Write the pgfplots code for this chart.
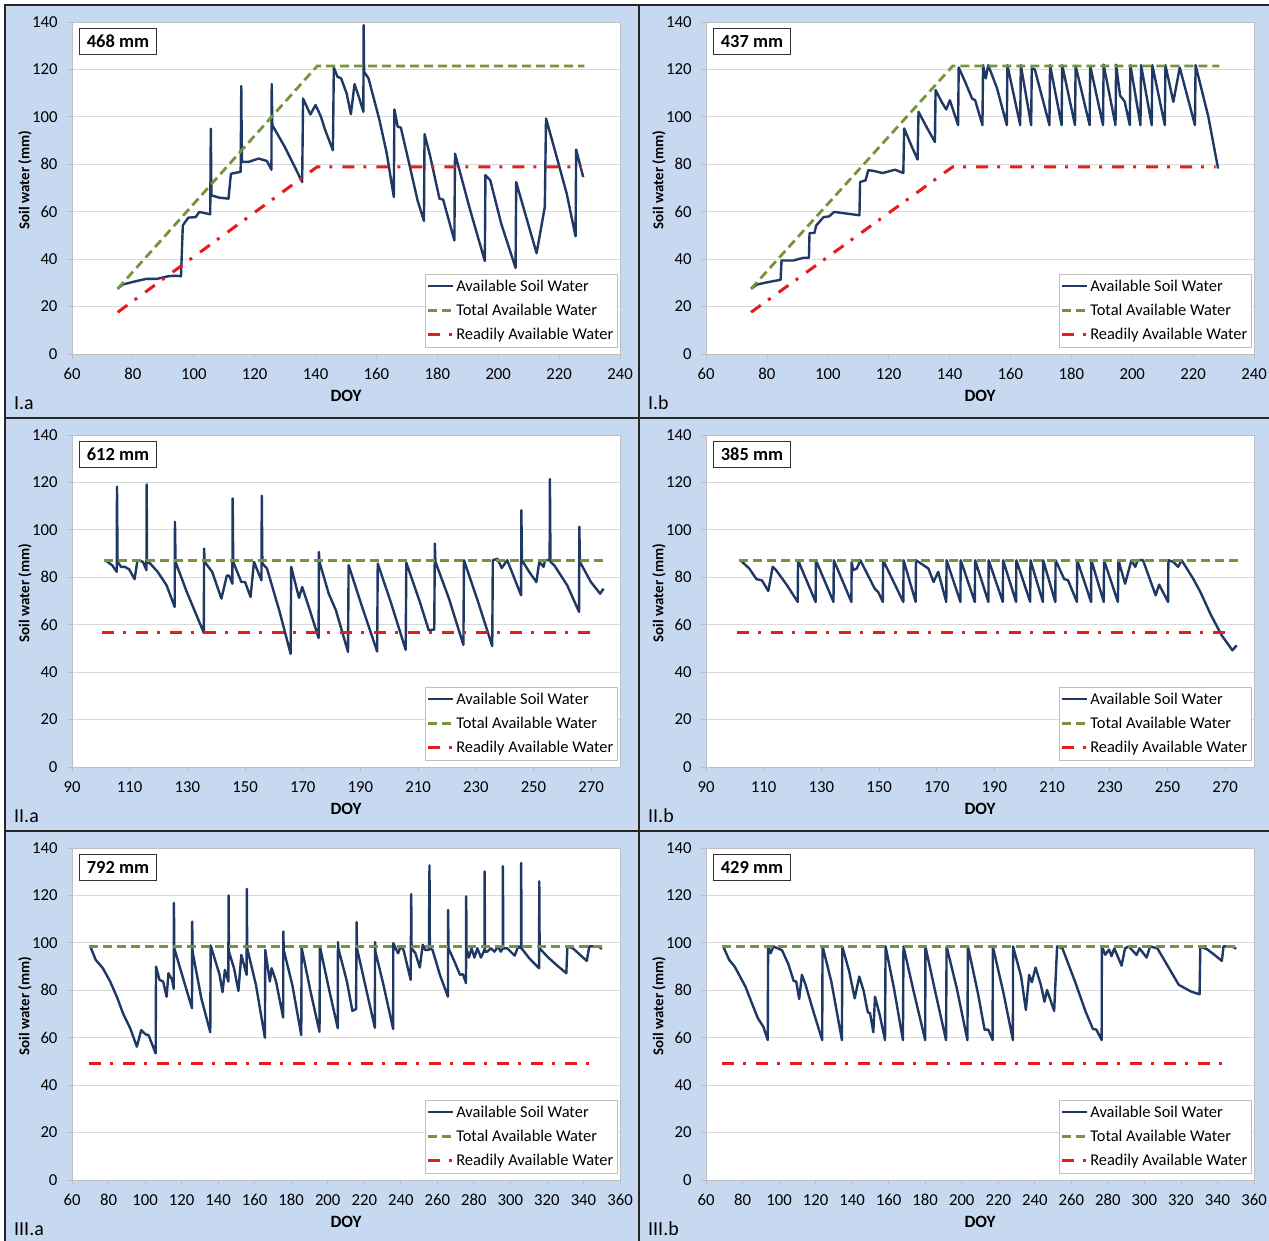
\documentclass[border=0pt]{standalone}
\usepackage{fontspec}
\setmainfont{Carlito}
\usepackage{pgfplots}
\pgfplotsset{compat=1.18}
\definecolor{bgblue}{RGB}{198,217,241}
\definecolor{aswc}{RGB}{31,56,100}
\definecolor{tawc}{RGB}{119,147,60}
\definecolor{rawc}{RGB}{228,28,28}
\definecolor{gridc}{RGB}{217,217,217}
\definecolor{axc}{RGB}{191,191,191}
\pgfplotsset{
  panel/.style={
    anchor=south west, width=548bp, height=332bp, scale only axis,
    ymin=0, ymax=140, ytick={0,20,...,140},
    ymajorgrids, grid style={draw=gridc, line width=0.8bp},
    axis line style={draw=axc, line width=0.8bp},
    tick align=outside, major tick length=5bp,
    tick style={draw=axc, line width=0.8bp},
    xtick pos=bottom, ytick pos=left,
    axis background/.style={fill=white},
    tick label style={font=\fontsize{16.8}{17}\selectfont, text=black},
    xticklabel style={yshift=-6bp},
    yticklabel style={xshift=-6bp},
    /pgf/number format/assume math mode=true,
    xlabel={DOY}, ylabel={Soil water (mm)},
    ylabel style={font=\fontsize{15}{16}\selectfont\bfseries,
      at={(axis description cs:-0.0858,0.524)}, anchor=center},
    xlabel style={font=\fontsize{17.3}{18}\selectfont\bfseries,
      at={(axis description cs:0.5,-0.1265)}, anchor=center},
    legend style={at={(rel axis cs:0.9945,0.021)}, anchor=south east,
      draw=axc, fill=white, font=\fontsize{16.5}{17}\selectfont,
      inner xsep=2bp, inner ysep=4bp, row sep=8.5bp,
      nodes={inner sep=1.5bp}},
    legend cell align=left,
    legend image code/.code={\draw[##1] (0bp,0bp) -- (25bp,0bp);},
  },
}
\tikzset{
  asw/.style={draw=aswc, line width=2.4bp, line join=round},
  taw/.style={draw=tawc, line width=2.8bp, dash pattern=on 9bp off 5bp},
  raw/.style={draw=rawc, line width=3bp, dash pattern=on 12bp off 9bp on 3bp off 10bp},
  mmbox/.style={draw=black!80, line width=0.9bp, fill=white, anchor=north west,
    minimum width=77bp, minimum height=26bp, inner sep=0pt,
    font=\fontsize{18.5}{19}\selectfont\bfseries},
}
\newcommand{\leg}{\legend{Available Soil Water,Total Available Water,Readily Available Water}}
\begin{document}
\begin{tikzpicture}[x=1bp,y=1bp]
\useasboundingbox (0,0) rectangle (1269,1241);
\fill[white] (0,0) rectangle (1269,1241);
\fill[bgblue] (5,0) rectangle (1269,1236);
% panel labels
\begin{scope}[every node/.style={anchor=base west, inner sep=0pt, font=\fontsize{20}{21}\selectfont}]
\node at (14,831) {I.a};
\node at (648,831) {I.b};
\node at (14,418) {II.a};
\node at (648,418) {II.b};
\node at (14,5) {III.a};
\node at (648,5) {III.b};
\end{scope}

% ---------- I.a ----------
\begin{axis}[panel, at={(72bp,887bp)}, xmin=60, xmax=240, xtick={60,80,...,240}]
\addplot[asw] coordinates {(75,27.5) (76.7,29.3) (81,30.7) (84.5,31.7) (88,31.7) (91.7,32.8) (94,33) (95.8,32.8) (96.4,54.2) (98.2,57.5) (100.6,57.7) (101.8,59.9) (105.4,58.9) (105.6,95) (105.8,66.9) (108.4,65.9) (111.4,65.5) (112.2,76) (115.4,76.8) (115.6,113) (115.8,81) (118,81) (121.3,82.4) (124,81.4) (125.5,77.7) (125.6,113.8) (125.8,96.5) (129.9,87.3) (132.9,79.6) (135.6,72.5) (135.9,107.7) (138.3,101) (140,105) (141.8,100) (143,95) (145.7,85.9) (146,120.8) (147.2,116.9) (148.4,116.2) (150.2,109.9) (151.6,101.1) (152.8,113.8) (154.4,107.7) (155.7,102.1) (155.8,138.7) (155.95,119) (157.4,116.2) (161,98.6) (163.4,84.5) (165.7,66.2) (165.9,103.1) (167,95.8) (168,95.5) (170.5,81.7) (173.5,64.8) (175.6,56.1) (175.8,92.7) (177.7,83.1) (180.7,65.5) (181.9,65.1) (185.6,47.9) (185.8,84.5) (190.8,60.6) (195.6,39.2) (195.8,75.4) (197.4,73.2) (201,54.9) (205.7,36.3) (205.9,72.5) (208.7,59.9) (212.6,42.5) (215.3,62) (215.7,99.3) (218.3,87.3) (222.5,67.6) (225.4,49.6) (225.6,86.2) (227.9,74.6)};
\addplot[taw] coordinates {(75,27.5) (140.5,121.4) (228.3,121.4)};
\addplot[raw] coordinates {(75,17.6) (140.5,78.9) (227.5,78.9)};
\leg
\node[mmbox] at (rel axis cs:0.0128,0.982) {468 mm};
\end{axis}

% ---------- I.b ----------
\begin{axis}[panel, at={(706bp,887bp)}, xmin=60, xmax=240, xtick={60,80,...,240}]
\addplot[asw] coordinates {(74.8,27.5) (76.8,29.3) (80.4,30.3) (84.5,31.3) (84.8,39.4) (88.6,39.4) (92.1,40.6) (93.8,40.6) (94,51) (95.6,51) (96.2,54.2) (98.6,57.7) (100.4,58) (102.1,59.9) (106.2,59.2) (110.4,58.5) (110.6,72.5) (112.4,73.2) (113.3,77.5) (115.1,77.2) (118,76.3) (122.1,77.7) (124.8,76.3) (125.1,95.1) (127.4,88) (129.5,82) (129.8,102.1) (132.7,95.1) (135.2,89.4) (135.4,111.3) (137.4,106.3) (138.9,103.1) (140.1,107) (142.8,96.5) (143,120.8) (145.1,114.8) (147.4,107.7) (148.4,107) (150.8,96.5) (151,121.8) (151.9,116.2) (152.7,121.8) (155.6,112) (158.8,96.5) (159,121.8) (163.2,96.5) (163.4,121.8) (166.8,96.5) (167,120.4) (168,120) (172.8,96.5) (173,121.8) (176.8,96.5) (177,121.8) (181.2,96.5) (181.4,121.5) (186,96.5) (186.2,121.5) (190.4,96.5) (190.6,122) (194.5,96.5) (194.7,122) (196,109) (197.5,106.5) (199.2,96.5) (199.4,121.8) (202.7,96.5) (202.9,121.8) (206.4,96.5) (206.6,121.8) (210.7,96.5) (210.9,121.8) (213.5,106.3) (215.6,120.8) (220.6,96.5) (220.8,121.8) (225,100) (228.2,78.2)};
\addplot[taw] coordinates {(74.8,27.5) (141,121.4) (228.6,121.4)};
\addplot[raw] coordinates {(74.8,17.6) (141,78.9) (227.4,78.9)};
\leg
\node[mmbox] at (rel axis cs:0.0128,0.982) {437 mm};
\end{axis}

% ---------- II.a ----------
\begin{axis}[panel, at={(72bp,474bp)}, xmin=90, xmax=280, xtick={90,110,...,270}]
\addplot[asw] coordinates {(101.5,87.2) (103.9,85.1) (105.5,82.3) (105.6,118.2) (105.8,86.5) (107,84.4) (108.3,84.4) (109.8,83.4) (111.7,79.2) (112.7,87.2) (114.6,86.5) (115.8,83) (115.9,119.2) (116,86.5) (117.1,85.8) (119.7,82.3) (122.8,76.6) (125.6,67.5) (125.7,103.4) (125.9,86.5) (129.8,73.8) (135.7,56.6) (135.8,92.1) (136,86.5) (138.6,82.3) (141.8,71) (143.7,80.8) (144.5,80.6) (145.6,77.3) (145.7,113.2) (145.9,86.5) (148.7,78) (150,78) (151.9,71.7) (153.1,86.5) (155.7,78.7) (155.8,114.4) (156,85.8) (157.6,83.7) (162,65.4) (165.8,47.7) (166,84.4) (168.7,71.3) (169.8,75.9) (172.1,67.5) (175.5,54.4) (175.6,90.7) (175.8,86.5) (179,73.1) (181.5,66.1) (185.7,48.5) (185.9,85.1) (190.4,68.2) (195.8,48.7) (196,85.8) (200.5,69.6) (205.7,49.4) (205.9,86.2) (210.6,69.6) (213.7,57.6) (215.6,58) (215.8,94.2) (216,86.5) (220.7,71) (225.7,51.5) (225.9,87.2) (230.8,69.6) (235.7,51) (235.9,87.2) (237.5,87.8) (239,83.9) (240.9,87.2) (245.7,72.4) (245.8,108.3) (246,87.2) (248.5,82.3) (251,78) (252,86.5) (253.5,84.4) (254,87.2) (255.6,87.2) (255.7,121.4) (255.9,86.5) (257.3,84.9) (261.7,76.6) (265.8,65.4) (265.9,101.3) (266.1,86.5) (269.9,78) (273.1,73.1) (274.3,75.2)};
\addplot[taw] coordinates {(101,87.2) (274.3,87.2)};
\addplot[raw] coordinates {(100.5,56.6) (270.6,56.6)};
\leg
\node[mmbox] at (rel axis cs:0.0128,0.982) {612 mm};
\end{axis}

% ---------- II.b ----------
\begin{axis}[panel, at={(706bp,474bp)}, xmin=90, xmax=280, xtick={90,110,...,270}]
\addplot[asw] coordinates {(101.9,87.2) (105,83.7) (107.5,79.2) (109.4,78.7) (111.6,74.2) (113.1,84.4) (114.3,83) (118.1,76.6) (121.8,69.6) (121.9,87.2) (128,69.6) (128.1,87.2) (134.2,69.6) (134.3,87.2) (140.4,69.6) (140.5,86.5) (141,83) (142.3,83.7) (143.5,87.2) (148.5,75.2) (149.7,73.8) (151.3,69.6) (151.4,87.2) (158.4,69.6) (158.5,87.2) (162.7,69.6) (162.8,87.2) (167.1,83.7) (168.9,78) (170.5,82.3) (173.3,69.6) (173.4,87.2) (178.2,69.6) (178.3,87.2) (183.2,69.6) (183.3,87.2) (187.9,69.6) (188,87.2) (192.9,69.6) (193,87.2) (197.5,69.6) (197.6,87.2) (202.4,69.6) (202.5,87.2) (206.8,69.6) (206.9,87.2) (211.1,69.6) (211.2,87.2) (214.2,79.2) (215.5,78.8) (218.6,69.6) (218.7,87.2) (223.5,69.6) (223.6,87.2) (227.9,69.6) (228,87.2) (232.8,69.6) (233,87.2) (235.3,77.3) (237.5,87.2) (238.8,84.4) (239.7,87.2) (241.5,87.2) (245.9,72.4) (247.1,76.9) (250.2,69.6) (250.3,87.2) (252,86.5) (253.7,84.4) (254.9,87.2) (258.9,79.4) (261.4,73.8) (265.1,64) (268.8,55.5) (272.5,49.2) (274,51.3)};
\addplot[taw] coordinates {(101.3,87.2) (274.4,87.2)};
\addplot[raw] coordinates {(100.7,56.6) (270,56.6)};
\leg
\node[mmbox] at (rel axis cs:0.0128,0.982) {385 mm};
\end{axis}

% ---------- III.a ----------
\begin{axis}[panel, at={(72bp,61bp)}, xmin=60, xmax=360, xtick={60,80,...,360}]
\addplot[asw] coordinates {(70,98.5) (73,92.8) (76.9,89.3) (80.9,83.7) (84.9,76.6) (87.9,70.3) (91.9,63.9) (95.5,56.2) (97.9,63.2) (100.3,61.4) (101.9,61.1) (105.8,53.4) (106,90) (107.9,84.4) (109.9,83.7) (111.8,77.3) (112.8,87.2) (114.8,84.4) (115.7,80.6) (115.8,116.8) (116,97.7) (120.8,85.1) (125.7,72.4) (125.8,109) (126,96.3) (130.8,76.6) (135.7,62.3) (135.9,98.9) (140.8,86.5) (142.4,79.2) (143.7,88.6) (145.6,83.7) (145.7,120) (145.9,96.3) (148.7,89.3) (151.1,79.7) (152.7,94.9) (155.6,86.5) (155.7,122.8) (155.9,97.7) (160.7,82.3) (165.6,60) (165.8,97) (168.3,83.7) (169.3,89.3) (171.7,83.7) (175.6,68.5) (175.7,104.8) (175.9,97) (180.6,82.3) (185.5,61.1) (185.7,98) (190.6,79.4) (195.5,62.5) (195.7,98.5) (200.6,80.8) (205.5,64) (205.6,100.3) (205.8,97.7) (210.5,83.7) (213.5,71.3) (215.5,72.1) (215.8,108.7) (216,97.7) (220.5,82.3) (225.8,64.2) (225.9,100.3) (226.1,96.3) (230.5,82.3) (235.8,63.7) (235.9,99.9) (238.5,95.6) (239.9,98.5) (241.5,97) (245.4,84.4) (245.7,120.6) (245.9,97.7) (248,95.6) (250.4,89.6) (252,99.2) (253.4,97) (255.4,97) (255.7,132.7) (255.9,97.7) (257.4,97) (261.4,86.5) (265.8,77.3) (265.9,113.9) (266.1,97.7) (269.4,92.1) (272.4,86.5) (274,86.8) (275.7,83) (275.8,119.6) (276,97.7) (277.3,93.8) (278.7,97.7) (280.3,93.8) (281.9,97.7) (283.9,93.8) (285.8,97) (285.9,130.1) (286.1,96.3) (287.3,96.3) (289.3,97.7) (291.3,96.3) (293.3,98.5) (294.7,96.3) (295.8,97.5) (295.9,132.3) (296.1,97.7) (298.3,97.7) (302.3,94.6) (304.3,98.5) (305.8,97.7) (305.9,133.7) (306.1,97.7) (310.3,93.5) (315.7,89.3) (315.8,125.9) (316,97.7) (320.2,94.2) (325.2,90.7) (330.6,87.2) (331.2,98.5) (334.2,97.7) (338.2,94.9) (341.8,92.4) (343.2,98.5) (348.1,98.5) (350.1,97.5)};
\addplot[taw] coordinates {(69.4,98.5) (350.1,98.5)};
\addplot[raw] coordinates {(69.4,49.2) (344.6,49.2)};
\leg
\node[mmbox] at (rel axis cs:0.0128,0.982) {792 mm};
\end{axis}

% ---------- III.b ----------
\begin{axis}[panel, at={(706bp,61bp)}, xmin=60, xmax=360, xtick={60,80,...,360}]
\addplot[asw] coordinates {(69.4,98.5) (72.7,92.8) (75.7,90) (81.6,81.5) (85.5,73.8) (88.4,68.2) (91.4,64.6) (93.8,59) (94,98.5) (95.3,95.6) (96.9,98.5) (99.2,97.7) (101.6,96.9) (105.1,91) (108,83.9) (109.4,83.7) (111,76.3) (112.5,86.5) (114.5,82.3) (118.8,71) (123.6,59) (123.8,98.5) (128.6,83.7) (134.4,59) (134.6,98.5) (138.4,87.9) (141.4,76.6) (143.9,85.8) (146.3,79.7) (148.6,70.7) (149.8,70.3) (151.6,62.3) (152.5,77.3) (155.1,69.6) (158,59) (158.3,98.5) (162.9,80.8) (167.8,59) (168.1,98.5) (173.7,79.4) (180,59) (180.1,98.5) (185.5,79.4) (191.4,59) (191.7,98.5) (197.3,80.8) (203.1,59) (203.4,98.5) (209,78.2) (212.5,63.4) (214.5,63.4) (216.9,59) (217,98.5) (222.7,79.4) (228,59) (228.1,98.5) (232.5,85.8) (235.1,71.7) (236.9,86.5) (238.4,83.4) (240.4,89.6) (243.3,82.3) (245.3,75.2) (246.7,80.1) (250.6,71.3) (252.2,98.5) (255.1,97.7) (262,83.7) (267.8,71) (271.8,63.7) (273.7,63.4) (276.6,59) (276.7,98.5) (278.6,95) (280.6,97.2) (282,94.4) (283.5,97.7) (287.5,90.4) (289.4,97.7) (291.4,98.5) (295.7,94.9) (297.3,97.7) (301.2,93.8) (303.1,98.5) (307.1,97.7) (318.8,82.3) (325.7,79.4) (330.2,78.3) (330.6,98.5) (334.5,97.2) (338.4,94.9) (342.4,92.4) (343.3,98.5) (348.2,98.5) (350.2,97.5)};
\addplot[taw] coordinates {(68.8,98.5) (350.2,98.5)};
\addplot[raw] coordinates {(68.8,49.2) (344.3,49.2)};
\leg
\node[mmbox] at (rel axis cs:0.0128,0.982) {429 mm};
\end{axis}

% borders
\draw[black!85, line width=2bp] (5,0) -- (5,1236) -- (1269,1236);
\draw[black!85, line width=2bp] (639,0) -- (639,1236);
\draw[black!85, line width=2bp] (5,823) -- (1269,823);
\draw[black!85, line width=2bp] (5,410) -- (1269,410);
\end{tikzpicture}
\end{document}
